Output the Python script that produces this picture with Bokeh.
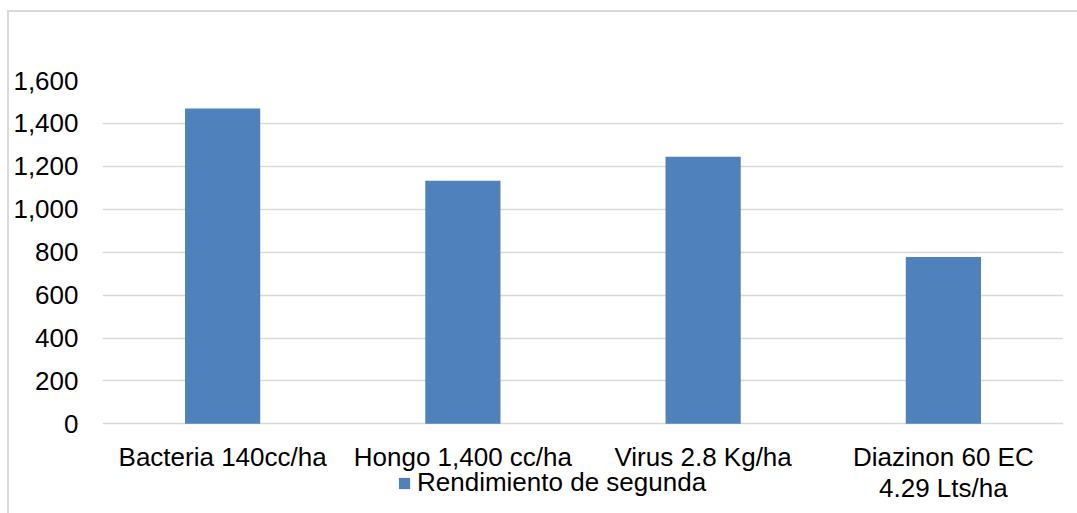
from bokeh.plotting import figure
from bokeh.models import (ColumnDataSource, FactorRange, Range1d, Legend, LegendItem,
                          NumeralTickFormatter, FixedTicker, CategoricalAxis, CustomJSTickFormatter)
from bokeh.embed import file_html
from bokeh.resources import INLINE

# Yield per treatment (second-grade yield); the last label wraps onto a second line
treatments = ["Bacteria 140cc/ha", "Hongo 1,400 cc/ha", "Virus 2.8 Kg/ha", "Diazinon 60 EC"]
label_line2 = ["", "", "", "4.29 Lts/ha"]
rendimiento = [1470, 1133, 1245, 778]
y_ticks = [0, 200, 400, 600, 800, 1000, 1200, 1400, 1600]
series_name = "Rendimiento de segunda"

FONT = "Liberation Sans"
BLUE = "#4f81bd"
GRID = "#d9d9d9"
FS = "26px"

src = ColumnDataSource(dict(x=treatments, y=rendimiento))

# the frame runs down to the bottom edge; the category axes sit on the zero line
p = figure(
    width=1070, height=503,
    x_range=FactorRange(*treatments, range_padding=0),
    y_range=Range1d(-427, 1600),
    output_backend="svg", toolbar_location=None,
    min_border_left=93, min_border_right=16,
    min_border_top=68, min_border_bottom=0,
)
p.margin = (10, 0, 0, 7)
p.styles = {"border-left": "2px solid #d9d9d9", "border-top": "2px solid #d9d9d9"}

r = p.vbar(x="x", top="y", width=0.313, source=src, fill_color=BLUE, line_color=None)

p.outline_line_color = None
p.background_fill_color = "white"
p.border_fill_color = "white"

p.xgrid.grid_line_color = None
p.ygrid.grid_line_color = GRID
p.ygrid.grid_line_width = 1.5
p.ygrid.ticker = FixedTicker(ticks=y_ticks)

p.yaxis.ticker = FixedTicker(ticks=y_ticks)
p.yaxis.formatter = NumeralTickFormatter(format="0,0")

x1 = p.xaxis[0]
x1.fixed_location = 0

second_line = dict(zip(treatments, label_line2))
x2 = CategoricalAxis(fixed_location=0)
x2.formatter = CustomJSTickFormatter(args=dict(lines=second_line), code="return lines[tick] || '';")
p.add_layout(x2, "below")

for ax in (x1, p.yaxis[0], x2):
    ax.axis_line_color = None
    ax.major_tick_line_color = None
    ax.minor_tick_line_color = None
    ax.major_label_text_font = FONT
    ax.major_label_text_font_size = FS
    ax.major_label_text_color = "#000000"
p.yaxis.major_label_standoff = 18
x1.major_label_standoff = 12
x2.major_label_standoff = 43

legend = Legend(
    items=[LegendItem(label=series_name, renderers=[r])],
    location=(295, 17),
    orientation="horizontal",
    label_text_font=FONT, label_text_font_size=FS, label_text_color="#000000",
    label_height=26, glyph_width=14, glyph_height=14, label_standoff=6,
    padding=0, margin=0, spacing=0,
    border_line_color=None, background_fill_alpha=0,
)
p.add_layout(legend, "center")

open("out.html", "w").write(file_html(p, INLINE))
